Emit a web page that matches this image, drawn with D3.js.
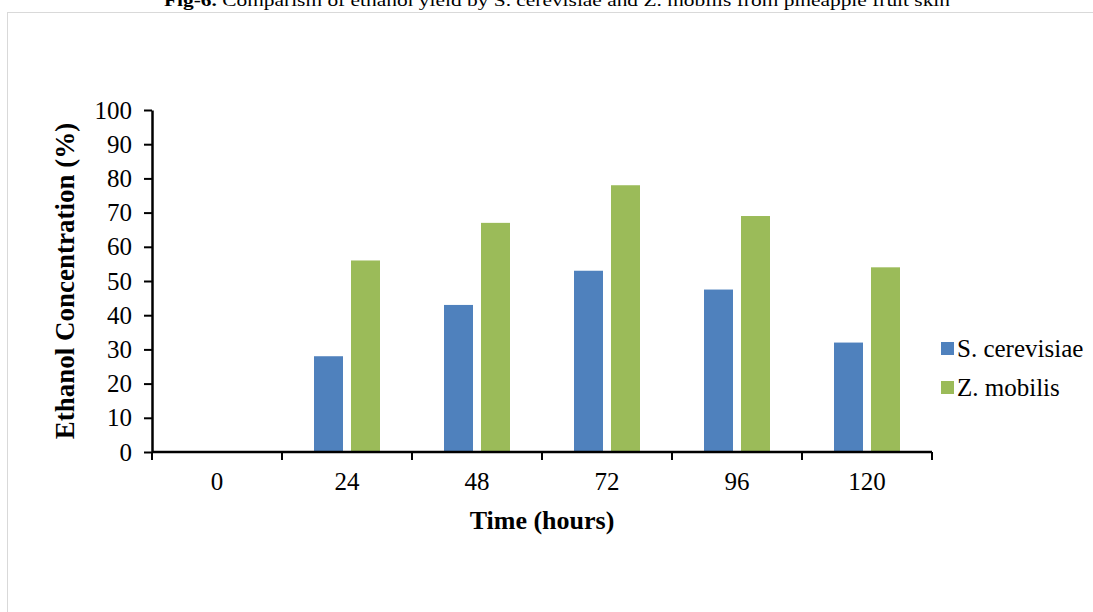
<!DOCTYPE html>
<html>
<head>
<meta charset="utf-8">
<script src="https://cdn.jsdelivr.net/npm/d3@7"></script>
<style>
  html, body { margin: 0; padding: 0; background: #fff; }
  svg { display: block; }
</style>
</head>
<body>
<svg id="chart" width="1093" height="612"></svg>
<script>
// Chart data
const hours = ['0', '24', '48', '72', '96', '120'];
const seriesNames = ['S. cerevisiae', 'Z. mobilis'];
const cerevisiae = [0, 28, 43, 53, 47.5, 32];
const mobilis = [0, 56, 67, 78, 69, 54];
const yTicks = [0, 10, 20, 30, 40, 50, 60, 70, 80, 90, 100];
const colors = ['#4f81bd', '#9bbb59'];

const svg = d3.select('#chart');
const width = +svg.attr('width');
const height = +svg.attr('height');
const font = '"Liberation Serif", "Times New Roman", serif';

// Plot area
const margin = { top: 110, right: 161, bottom: 160, left: 152 };

// Light frame behind the chart
svg.append('rect')
    .attr('x', 7.5)
    .attr('y', 12.5)
    .attr('width', width + 10)
    .attr('height', height + 10)
    .attr('fill', 'none')
    .attr('stroke', '#d9d9d9')
    .attr('stroke-width', 1);

// Title (clipped by the top edge, as in the original)
const title = svg.append('text')
    .attr('x', 164)
    .attr('y', 6)
    .attr('font-family', font)
    .attr('font-size', 17)
    .attr('textLength', 786)
    .attr('lengthAdjust', 'spacingAndGlyphs')
    .attr('fill', '#000');
title.append('tspan').attr('font-weight', 'bold').text('Fig-6.');
title.append('tspan').text(' Comparism of ethanol yield by S. cerevisiae and Z. mobilis from pineapple fruit skin');

// Scales
const x0 = d3.scaleBand()
    .domain(hours)
    .range([margin.left, width - margin.right]);

const bw = x0.bandwidth();
const x1 = d3.scaleBand()
    .domain(seriesNames)
    .range([bw * 32 / 130, bw * 98 / 130])
    .paddingInner(8 / 37);

const y = d3.scaleLinear()
    .domain([0, 100])
    .range([height - margin.bottom, margin.top]);

// Bars
const rows = hours.map((h, i) => ({ h, vals: [cerevisiae[i], mobilis[i]] }));

svg.append('g')
    .selectAll('g')
    .data(rows)
    .enter()
    .append('g')
    .attr('transform', d => `translate(${x0(d.h)},0)`)
    .selectAll('rect')
    .data(d => d.vals.map((v, k) => ({ name: seriesNames[k], v, k })))
    .enter()
    .append('rect')
    .attr('x', d => x1(d.name))
    .attr('y', d => y(d.v))
    .attr('width', x1.bandwidth())
    .attr('height', d => y(0) - y(d.v))
    .attr('fill', d => colors[d.k]);

// Y axis
const yAxis = svg.append('g')
    .attr('transform', `translate(${margin.left},0)`)
    .call(d3.axisLeft(y).tickValues(yTicks).tickSize(8).tickSizeOuter(0).tickPadding(12));
yAxis.select('.domain').attr('stroke', '#000').attr('stroke-width', 2.5);
yAxis.selectAll('.tick line').attr('stroke', '#000').attr('stroke-width', 2);
yAxis.selectAll('.tick text')
    .attr('font-family', font)
    .attr('font-size', 25)
    .attr('fill', '#000');

// X axis with ticks between categories
const xAxis = svg.append('g')
    .attr('transform', `translate(0,${y(0)})`);
xAxis.append('line')
    .attr('x1', margin.left)
    .attr('x2', width - margin.right)
    .attr('stroke', '#000')
    .attr('stroke-width', 2.5);
const edges = hours.map(h => x0(h)).concat([x0(hours[hours.length - 1]) + bw]);
xAxis.selectAll('.sep')
    .data(edges)
    .enter()
    .append('line')
    .attr('x1', d => d)
    .attr('x2', d => d)
    .attr('y1', 0)
    .attr('y2', 8)
    .attr('stroke', '#000')
    .attr('stroke-width', 2);
xAxis.selectAll('.lbl')
    .data(hours)
    .enter()
    .append('text')
    .attr('x', d => x0(d) + bw / 2)
    .attr('y', 38)
    .attr('text-anchor', 'middle')
    .attr('font-family', font)
    .attr('font-size', 25)
    .attr('fill', '#000')
    .text(d => d);

// Axis titles
svg.append('text')
    .attr('x', (margin.left + width - margin.right) / 2)
    .attr('y', 529)
    .attr('text-anchor', 'middle')
    .attr('font-family', font)
    .attr('font-size', 26)
    .attr('font-weight', 'bold')
    .attr('fill', '#000')
    .text('Time (hours)');

svg.append('text')
    .attr('transform', `translate(74,${(y(0) + y(100)) / 2}) rotate(-90)`)
    .attr('text-anchor', 'middle')
    .attr('font-family', font)
    .attr('font-size', 27)
    .attr('font-weight', 'bold')
    .attr('fill', '#000')
    .text('Ethanol Concentration (%)');

// Legend
const legend = svg.append('g')
    .attr('transform', 'translate(941,340)');
seriesNames.forEach((name, k) => {
    const g = legend.append('g').attr('transform', `translate(0,${k * 39})`);
    g.append('rect')
        .attr('x', 0)
        .attr('y', 2)
        .attr('width', 13)
        .attr('height', 13)
        .attr('fill', colors[k]);
    g.append('text')
        .attr('x', 16)
        .attr('y', 17)
        .attr('font-family', font)
        .attr('font-size', 25)
        .attr('fill', '#000')
        .text(name);
});
</script>
</body>
</html>
